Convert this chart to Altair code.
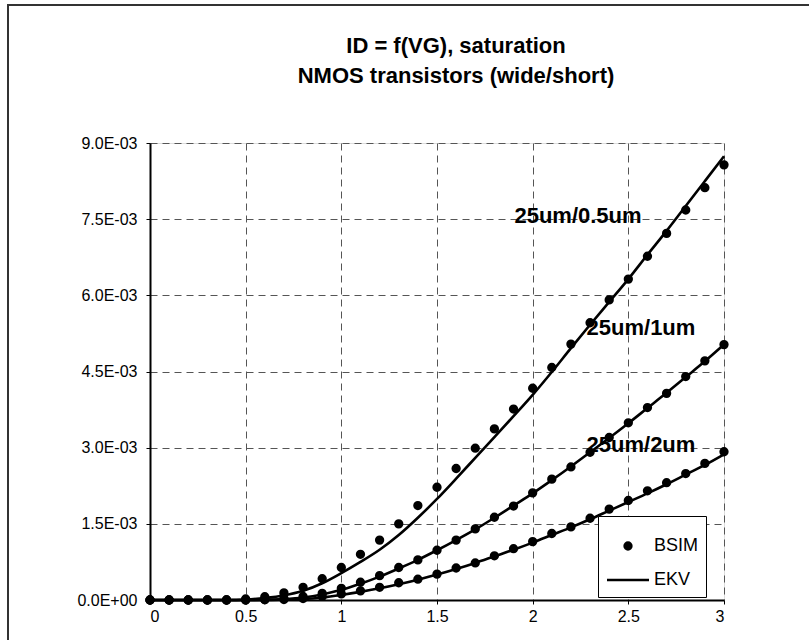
import altair as alt
import pandas as pd

# ---- data (drain current in mA, gate voltage in V) ----
vg = [0.0, 0.1, 0.2, 0.3, 0.4, 0.5, 0.6, 0.7, 0.8, 0.9, 1.0,
      1.1, 1.2, 1.3, 1.4, 1.5, 1.6, 1.7, 1.8, 1.9, 2.0,
      2.1, 2.2, 2.3, 2.4, 2.5, 2.6, 2.7, 2.8, 2.9, 3.0]

bsim_05 = [0, 0, 0, 0, 0, 0.02, 0.065, 0.14, 0.25, 0.42, 0.64,
           0.90, 1.18, 1.50, 1.86, 2.22, 2.59, 2.99, 3.37, 3.76, 4.17,
           4.58, 5.04, 5.46, 5.91, 6.32, 6.77, 7.22, 7.68, 8.12, 8.57]
ekv_05 = [0, 0, 0, 0, 0, 0.01, 0.04, 0.09, 0.18, 0.33, 0.53,
          0.75, 0.99, 1.28, 1.62, 1.99, 2.39, 2.80, 3.21, 3.62, 4.04,
          4.49, 4.96, 5.42, 5.87, 6.32, 6.80, 7.27, 7.76, 8.25, 8.74]

bsim_1 = [0, 0, 0, 0, 0, 0, 0.01, 0.03, 0.07, 0.13, 0.23,
          0.35, 0.48, 0.64, 0.79, 0.98, 1.18, 1.40, 1.63, 1.85, 2.11,
          2.38, 2.62, 2.91, 3.20, 3.49, 3.79, 4.07, 4.40, 4.71, 5.03]
ekv_1 = [0, 0, 0, 0, 0, 0, 0.005, 0.02, 0.05, 0.11, 0.20,
         0.32, 0.46, 0.62, 0.79, 0.98, 1.18, 1.39, 1.62, 1.86, 2.10,
         2.36, 2.63, 2.91, 3.19, 3.48, 3.78, 4.08, 4.39, 4.70, 5.03]

bsim_2 = [0, 0, 0, 0, 0, 0, 0.005, 0.01, 0.03, 0.07, 0.12,
          0.18, 0.25, 0.34, 0.41, 0.51, 0.63, 0.73, 0.87, 1.01, 1.15,
          1.31, 1.44, 1.61, 1.79, 1.96, 2.15, 2.31, 2.49, 2.69, 2.92]
ekv_2 = [0, 0, 0, 0, 0, 0, 0.002, 0.01, 0.02, 0.05, 0.10,
         0.16, 0.23, 0.31, 0.40, 0.50, 0.61, 0.73, 0.86, 0.99, 1.13,
         1.28, 1.43, 1.59, 1.76, 1.93, 2.10, 2.28, 2.47, 2.66, 2.87]

series_names = ["25um/0.5um", "25um/1um", "25um/2um"]
label_x = [2.237, 2.566, 2.566]
label_y = [7.56, 5.36, 3.05]

y_ticks = [0, 0.0015, 0.003, 0.0045, 0.006, 0.0075, 0.009]
x_ticks = [0, 0.5, 1, 1.5, 2, 2.5, 3]

# ---- tables ----
rows_b, rows_e = [], []
for name, b, e in zip(series_names, [bsim_05, bsim_1, bsim_2], [ekv_05, ekv_1, ekv_2]):
    for x, yb, ye in zip(vg, b, e):
        rows_b.append({"series": name, "VG": x, "ID": yb * 1e-3, "model": "BSIM"})
        rows_e.append({"series": name, "VG": x, "ID": ye * 1e-3, "model": "EKV"})
df_b = pd.DataFrame(rows_b)
df_e = pd.DataFrame(rows_e)
df_lab = pd.DataFrame({"label": series_names, "VG": label_x,
                       "ID": [v * 1e-3 for v in label_y]})

FONT = "Liberation Sans"
# solid dot drawn with a stroke: two concentric rings
DOT = ("M-0.16,0A0.16,0.16,0,1,0,0.16,0A0.16,0.16,0,1,0,-0.16,0Z"
       "M-0.06,0A0.06,0.06,0,1,0,0.06,0A0.06,0.06,0,1,0,-0.06,0Z")
SYM_SIZE = 1764
SW = 2.6

xscale = alt.Scale(domain=[0, 3], nice=False, zero=False)
yscale = alt.Scale(domain=[0, 0.009], nice=False)

xaxis = alt.Axis(values=x_ticks, format="~g", title=None, labelPadding=4,
                 grid=True, gridDash=[7, 5], gridColor="#555", gridWidth=1,
                 domainColor="black", domainWidth=2, tickColor="black",
                 tickSize=4, labelFont=FONT, labelFontSize=16, labelColor="black")
yaxis = alt.Axis(values=y_ticks, title=None, labelPadding=9,
                 labelExpr="datum.value == 0 ? '0.0E+00' : format(datum.value*1000, '.1f') + 'E-03'",
                 grid=True, gridDash=[7, 5], gridColor="#555", gridWidth=1,
                 domainColor="black", domainWidth=2, tickColor="black",
                 tickSize=4, labelFont=FONT, labelFontSize=16, labelColor="black")

frame = alt.Chart(pd.DataFrame({"a": [0]})).mark_rect(
    filled=False, stroke="#333", strokeWidth=2
).encode(x=alt.value(-142), x2=alt.value(700), y=alt.value(-138), y2=alt.value(600))

lines = alt.Chart(df_e).mark_line(color="black", strokeWidth=SW, interpolate="monotone").encode(
    x=alt.X("VG:Q", scale=xscale, axis=xaxis),
    y=alt.Y("ID:Q", scale=yscale, axis=yaxis),
    detail="series:N",
)

legend = alt.Legend(
    title=None, orient="none", legendX=448, legendY=373,
    strokeColor="black", fillColor="white", padding=7.5, cornerRadius=0,
    symbolSize=SYM_SIZE, symbolStrokeColor="black", symbolStrokeWidth=SW,
    symbolOpacity=1, labelFont=FONT, labelFontSize=18,
    labelColor="black", labelOffset=3.5,
)

points = alt.Chart(df_b).mark_point(filled=False, color="black", strokeWidth=SW,
                                    opacity=1, size=SYM_SIZE).encode(
    x=alt.X("VG:Q", scale=xscale),
    y=alt.Y("ID:Q", scale=yscale),
    detail="series:N",
    shape=alt.Shape("model:N",
                    scale=alt.Scale(domain=["BSIM", "EKV"], range=[DOT, "stroke"]),
                    legend=legend),
)

labels = alt.Chart(df_lab).mark_text(font=FONT, fontSize=22, fontWeight="bold",
                                     color="black", align="center", baseline="middle").encode(
    x=alt.X("VG:Q", scale=xscale),
    y=alt.Y("ID:Q", scale=yscale),
    text="label:N",
)

chart = alt.layer(frame, lines, points, labels).properties(
    width=574, height=457,
    padding={"left": 150, "top": 143, "right": 85, "bottom": 40},
    autosize="none",
    title=alt.TitleParams(text=["ID = f(VG), saturation", "NMOS transistors (wide/short)"],
                          font=FONT, fontSize=22, fontWeight="bold", color="black",
                          anchor="middle", frame="group", dx=19, offset=-84, lineHeight=30),
).configure_view(stroke="black", strokeWidth=1.5).configure(background="white")

chart.save("out.html", embed_options={"renderer": "svg", "actions": False})
